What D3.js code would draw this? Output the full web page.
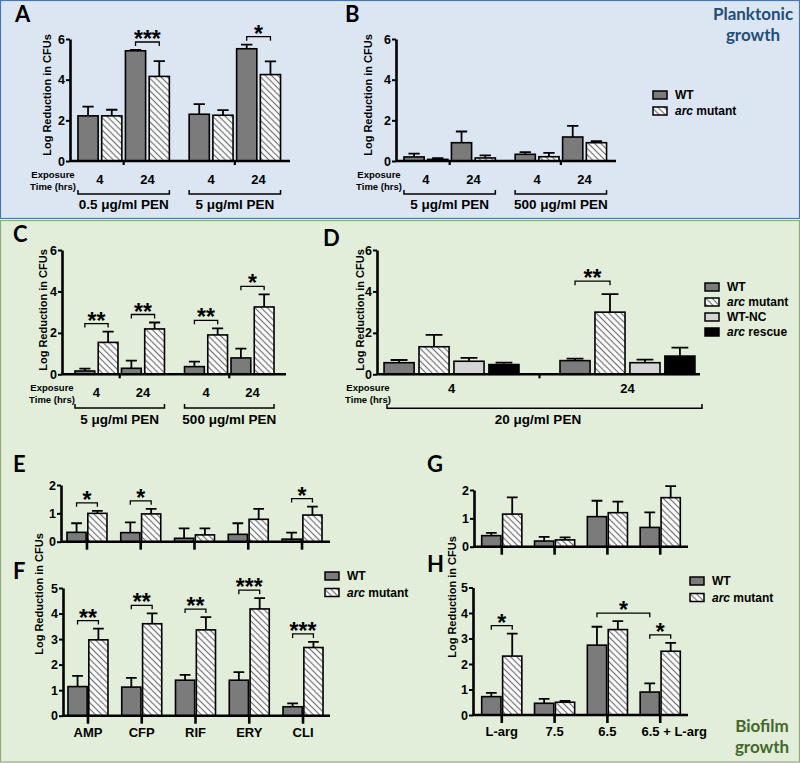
<!DOCTYPE html>
<html><head><meta charset="utf-8">
<script src="https://cdn.jsdelivr.net/npm/d3@7"></script>
<style>
body{margin:0;background:#fff}
svg{display:block}
text{font-family:"Liberation Sans",Arial,sans-serif;font-weight:bold;fill:#000}
.big{font-family:Lato,"Open Sans",sans-serif}
</style>
</head><body>
<svg id="c" width="800" height="763"></svg>
<script>
// ---------------- DATA ----------------
const timeLabels = ["4", "24"];
const strains = ["WT", "arc mutant"];

// Panel A (planktonic, WT vs arc, order: conc0-4h, conc0-24h, conc1-4h, conc1-24h)
const aGroups = ["0.5 μg/ml PEN", "5 μg/ml PEN"];
const aWT = [2.22, 5.42, 2.3, 5.52];
const aWTErr = [0.45, 0.04, 0.5, 0.2];
const aArc = [2.22, 4.16, 2.25, 4.25];
const aArcErr = [0.3, 0.75, 0.25, 0.65];
const aSig = [{g: 0, t: "24", label: "***"}, {g: 1, t: "24", label: "*"}];

// Panel B
const bGroups = ["5 μg/ml PEN", "500 μg/ml PEN"];
const bWT = [0.2, 0.9, 0.33, 1.18];
const bWTErr = [0.16, 0.55, 0.11, 0.55];
const bArc = [0.08, 0.15, 0.21, 0.9];
const bArcErr = [0.06, 0.13, 0.19, 0.08];

// Panel C (biofilm)
const cGroups = ["5 μg/ml PEN", "500 μg/ml PEN"];
const cWT = [0.16, 0.29, 0.37, 0.79];
const cWTErr = [0.11, 0.37, 0.24, 0.45];
const cArc = [1.54, 2.19, 1.9, 3.25];
const cArcErr = [0.52, 0.31, 0.32, 0.61];
const cSig = [{g: 0, t: "4", label: "**"}, {g: 0, t: "24", label: "**"},
              {g: 1, t: "4", label: "**"}, {g: 1, t: "24", label: "*"}];

// Panel D
const dTimes = ["4", "24"];
const dStrains = ["WT", "arc mutant", "WT-NC", "arc rescue"];
const d4h = [0.56, 1.33, 0.63, 0.47];
const d4hErr = [0.13, 0.57, 0.16, 0.09];
const d24h = [0.66, 3.0, 0.56, 0.88];
const d24hErr = [0.1, 0.87, 0.15, 0.41];
const dConc = "20 μg/ml PEN";

// Panels E / F
const antibiotics = ["AMP", "CFP", "RIF", "ERY", "CLI"];
const eWT = [0.33, 0.32, 0.12, 0.26, 0.09];
const eWTErr = [0.32, 0.36, 0.35, 0.39, 0.23];
const eArc = [1.0, 0.98, 0.24, 0.79, 0.94];
const eArcErr = [0.09, 0.18, 0.23, 0.37, 0.3];
const eSig = [{a: [0, "WT"], b: [0, "arc"], label: "*"}, {a: [1, "WT"], b: [1, "arc"], label: "*"},
              {a: [4, "WT"], b: [4, "arc"], label: "*"}];
const fWT = [1.14, 1.12, 1.39, 1.39, 0.35];
const fWTErr = [0.42, 0.36, 0.21, 0.32, 0.13];
const fArc = [2.97, 3.6, 3.36, 4.18, 2.67];
const fArcErr = [0.44, 0.41, 0.5, 0.42, 0.22];
const fSig = [{a: [0, "WT"], b: [0, "arc"], label: "**"}, {a: [1, "WT"], b: [1, "arc"], label: "**"},
              {a: [2, "WT"], b: [2, "arc"], label: "**"}, {a: [3, "WT"], b: [3, "arc"], label: "***"},
              {a: [4, "WT"], b: [4, "arc"], label: "***"}];

// Panels G / H
const conditions = ["L-arg", "7.5", "6.5", "6.5 + L-arg"];
const gWT = [0.39, 0.2, 1.06, 0.68];
const gWTErr = [0.1, 0.15, 0.56, 0.53];
const gArc = [1.15, 0.24, 1.2, 1.73];
const gArcErr = [0.59, 0.09, 0.39, 0.41];
const hWT = [0.72, 0.46, 2.74, 0.9];
const hWTErr = [0.15, 0.17, 0.72, 0.34];
const hArc = [2.31, 0.5, 3.35, 2.5];
const hArcErr = [0.88, 0.05, 0.33, 0.33];
const hSig = [{a: [0, "WT"], b: [0, "arc"], label: "*"}, {a: [2, "WT"], b: [3, "WT"], label: "*"},
              {a: [3, "WT"], b: [3, "arc"], label: "*"}];

// ---------------- DRAWING ----------------
const WT_FILL = "#7b7b7b", NC_FILL = "#d4d4d4", RESCUE_FILL = "#000";
const svg = d3.select("#c");
const defs = svg.append("defs");
const pat = defs.append("pattern").attr("id", "hatch").attr("patternUnits", "userSpaceOnUse")
  .attr("width", 4.4).attr("height", 4.4).attr("patternTransform", "rotate(-45)");
pat.append("rect").attr("width", 4.4).attr("height", 4.4).attr("fill", "#fff");
pat.append("line").attr("x1", 2.2).attr("x2", 2.2).attr("y1", 0).attr("y2", 4.4)
  .attr("stroke", "#707070").attr("stroke-width", 1.2);

// backgrounds
svg.append("rect").attr("x", 0.5).attr("y", 0.5).attr("width", 799).attr("height", 218)
  .attr("fill", "#dce6f2").attr("stroke", "#4a78ad").attr("stroke-width", 1.2);
svg.append("rect").attr("x", 0.5).attr("y", 220.5).attr("width", 799).attr("height", 541.5)
  .attr("fill", "#e2eed9").attr("stroke", "#8fab80").attr("stroke-width", 1.2);

function txt(g, x, y, s, size, anchor) {
  return g.append("text").attr("x", x).attr("y", y).attr("font-size", size)
    .attr("text-anchor", anchor || "middle").text(s);
}

function drawBars(g, bars, y) {
  g.selectAll("rect.bar").data(bars).join("rect").attr("class", "bar")
    .attr("x", b => b.x).attr("y", b => y(b.v)).attr("width", b => b.w)
    .attr("height", b => y(0) - y(b.v)).attr("fill", b => b.fill)
    .attr("stroke", "#000").attr("stroke-width", 1.6);
  g.selectAll("path.err").data(bars.filter(b => b.e > 0)).join("path").attr("class", "err")
    .attr("d", b => {
      const cx = b.x + b.w / 2, yt = y(b.v + b.e), cw = b.w * 0.28;
      return `M${cx},${y(b.v)}V${yt}M${cx - cw},${yt}H${cx + cw}`;
    })
    .attr("fill", "none").attr("stroke", "#000").attr("stroke-width", 1.8);
}

function yAxis(g, y, x, ticks) {
  const ax = g.append("g").attr("transform", `translate(${x},0)`)
    .call(d3.axisLeft(y).tickValues(ticks).tickSize(4).tickSizeOuter(0).tickPadding(1).tickFormat(d3.format("d")));
  ax.attr("font-family", null).attr("font-size", null);
  ax.select(".domain").attr("stroke", "#000").attr("stroke-width", 2.6);
  ax.selectAll(".tick line").attr("stroke", "#000").attr("stroke-width", 2);
  ax.selectAll(".tick text").attr("font-size", 12.5).attr("fill", "#000");
}

function yTitle(g, x, cy) {
  g.append("text").attr("transform", `translate(${x},${cy}) rotate(-90)`)
    .attr("text-anchor", "middle").attr("font-size", 11).text("Log Reduction in CFUs");
}

function sigBracket(g, x1, x2, yb, label) {
  g.append("path").attr("d", `M${x1},${yb + 4}V${yb}H${x2}V${yb + 4}`)
    .attr("fill", "none").attr("stroke", "#000").attr("stroke-width", 1.3);
  txt(g, (x1 + x2) / 2, yb + 5, label, 23);
}

function legend(g, x, y0, step, items) {
  items.forEach((it, i) => {
    const yb = y0 + i * step;
    g.append("rect").attr("x", x).attr("y", yb - 8).attr("width", 14).attr("height", 8)
      .attr("fill", it.fill).attr("stroke", "#000").attr("stroke-width", 1.5);
    const t = g.append("text").attr("x", x + 22).attr("y", yb).attr("font-size", 12);
    if (it.name.startsWith("arc ")) {
      t.append("tspan").attr("font-style", "italic").text("arc");
      t.append("tspan").text(it.name.slice(3));
    } else t.text(it.name);
  });
}

function exposurePanel(o) {
  const g = svg.append("g");
  const y = d3.scaleLinear().domain([0, 6]).range([o.y0, o.yTop]);
  const outer = d3.scaleBand().domain(o.groups).range(o.range).paddingInner(o.pi).paddingOuter(o.po);
  const slots = [];
  timeLabels.forEach(t => strains.forEach(s => slots.push(t + "|" + s)));
  const inner = d3.scaleBand().domain(slots).range([0, outer.bandwidth()]).paddingInner(0.15);
  const bars = [];
  o.groups.forEach((gr, gi) => timeLabels.forEach((t, ti) => {
    const k = gi * 2 + ti;
    bars.push({g: gi, t, s: "WT", x: outer(gr) + inner(t + "|WT"), w: inner.bandwidth(), v: o.wt[k], e: o.wtErr[k], fill: WT_FILL});
    bars.push({g: gi, t, s: "arc", x: outer(gr) + inner(t + "|arc mutant"), w: inner.bandwidth(), v: o.arc[k], e: o.arcErr[k], fill: "url(#hatch)"});
  }));
  drawBars(g, bars, y);
  g.append("line").attr("x1", o.axisX).attr("x2", o.xEnd).attr("y1", o.y0).attr("y2", o.y0)
    .attr("stroke", "#000").attr("stroke-width", 2.6);
  o.groups.forEach(gr => {
    const xm = outer(gr) + (inner("4|arc mutant") + inner.bandwidth() + inner("24|WT")) / 2;
    g.append("line").attr("x1", xm).attr("x2", xm).attr("y1", o.y0).attr("y2", o.y0 + 4)
      .attr("stroke", "#000").attr("stroke-width", 2.2);
    timeLabels.forEach(t => {
      const cx = outer(gr) + (inner(t + "|WT") + inner(t + "|arc mutant") + inner.bandwidth()) / 2;
      txt(g, cx, o.timeY, t, 13);
    });
    const x1 = outer(gr), x2 = outer(gr) + outer.bandwidth();
    g.append("path").attr("d", `M${x1},${o.brY - 4}V${o.brY}H${x2}V${o.brY - 4}`)
      .attr("fill", "none").attr("stroke", "#000").attr("stroke-width", 1.5);
    txt(g, (x1 + x2) / 2, o.glY, gr, 13.5);
  });
  yAxis(g, y, o.axisX, [0, 2, 4, 6]);
  yTitle(g, o.titleX, o.titleY);
  txt(g, o.expX, o.expY, "Exposure", 9.5);
  txt(g, o.expX, o.expY + 12, "Time (hrs)", 9.5);
  (o.sig || []).forEach(sg => {
    const b1 = bars.find(b => b.g === sg.g && b.t === sg.t && b.s === "WT");
    const b2 = bars.find(b => b.g === sg.g && b.t === sg.t && b.s === "arc");
    const yb = Math.min(y(b1.v + b1.e), y(b2.v + b2.e)) - 8;
    sigBracket(g, b1.x + b1.w / 2, b2.x + b2.w / 2, yb, sg.label);
  });
  return g;
}

function catPanel(o) {
  const g = svg.append("g");
  const y = d3.scaleLinear().domain([0, o.max]).range([o.y0, o.yTop]);
  const outer = d3.scaleBand().domain(o.cats).range(o.range).paddingInner(o.pi).paddingOuter(o.po);
  const inner = d3.scaleBand().domain(["WT", "arc"]).range([0, outer.bandwidth()]).paddingInner(0.08);
  const bars = [];
  o.cats.forEach((c, i) => {
    bars.push({c: i, s: "WT", x: outer(c) + inner("WT"), w: inner.bandwidth(), v: o.wt[i], e: o.wtErr[i], fill: WT_FILL});
    bars.push({c: i, s: "arc", x: outer(c) + inner("arc"), w: inner.bandwidth(), v: o.arc[i], e: o.arcErr[i], fill: "url(#hatch)"});
  });
  drawBars(g, bars, y);
  g.append("line").attr("x1", o.axisX).attr("x2", o.xEnd).attr("y1", o.y0).attr("y2", o.y0)
    .attr("stroke", "#000").attr("stroke-width", 2.6);
  o.cats.forEach(c => {
    const cx = outer(c) + outer.bandwidth() / 2;
    g.append("line").attr("x1", cx).attr("x2", cx).attr("y1", o.y0).attr("y2", o.y0 + 8)
      .attr("stroke", "#000").attr("stroke-width", 2.6);
    if (o.labels) txt(g, cx + (c === "6.5 + L-arg" ? 14 : 0), o.y0 + 21, c, 13);
  });
  yAxis(g, y, o.axisX, d3.range(0, o.max + 1));
  (o.sig || []).forEach(sg => {
    const b1 = bars.find(b => b.c === sg.a[0] && b.s === sg.a[1]);
    const b2 = bars.find(b => b.c === sg.b[0] && b.s === sg.b[1]);
    const x1 = b1.x + b1.w / 2, x2 = b2.x + b2.w / 2;
    const inside = bars.filter(b => b.x + b.w / 2 >= x1 - 0.1 && b.x + b.w / 2 <= x2 + 0.1);
    const yb = d3.min(inside, b => y(b.v + b.e)) - 8;
    sigBracket(g, x1, x2, yb, sg.label);
  });
  return g;
}

// Panel A
exposurePanel({groups: aGroups, wt: aWT, wtErr: aWTErr, arc: aArc, arcErr: aArcErr, sig: aSig,
  axisX: 70, xEnd: 290, y0: 161, yTop: 39, range: [72.4, 286.1], pi: 0.178, po: 0.05,
  timeY: 184, brY: 194, glY: 209, expX: 53, expY: 178, titleX: 51, titleY: 95});
// Panel B
const pB = exposurePanel({groups: bGroups, wt: bWT, wtErr: bWTErr, arc: bArc, arcErr: bArcErr,
  axisX: 396, xEnd: 616, y0: 161, yTop: 39, range: [398.4, 612.1], pi: 0.178, po: 0.05,
  timeY: 184, brY: 194, glY: 209, expX: 379, expY: 178, titleX: 372, titleY: 95});
legend(pB, 653, 99, 16, [{name: "WT", fill: WT_FILL}, {name: "arc mutant", fill: "url(#hatch)"}]);
// Panel C
exposurePanel({groups: cGroups, wt: cWT, wtErr: cWTErr, arc: cArc, arcErr: cArcErr, sig: cSig,
  axisX: 62, xEnd: 286, y0: 374.3, yTop: 250, range: [69.5, 279.5], pi: 0.183, po: 0.05,
  timeY: 397, brY: 408, glY: 424, expX: 52, expY: 391, titleX: 46.5, titleY: 310});

// Panel D
(function () {
  const g = svg.append("g");
  const axisX = 377;
  const y = d3.scaleLinear().domain([0, 6]).range([374.3, 250]);
  const outer = d3.scaleBand().domain(dTimes).range([380, 699]).paddingInner(0.233).paddingOuter(0.023);
  const inner = d3.scaleBand().domain(dStrains).range([0, outer.bandwidth()]).paddingInner(0.14);
  const fills = [WT_FILL, "url(#hatch)", NC_FILL, RESCUE_FILL];
  const vals = [d4h, d24h], errs = [d4hErr, d24hErr];
  const bars = [];
  dTimes.forEach((t, ti) => dStrains.forEach((s, si) => bars.push({
    t, s, x: outer(t) + inner(s), w: inner.bandwidth(), v: vals[ti][si], e: errs[ti][si], fill: fills[si]})));
  drawBars(g, bars, y);
  g.append("line").attr("x1", axisX).attr("x2", 700).attr("y1", 374.3).attr("y2", 374.3)
    .attr("stroke", "#000").attr("stroke-width", 2.6);
  const xm = (outer("4") + outer.bandwidth() + outer("24")) / 2;
  g.append("line").attr("x1", xm).attr("x2", xm).attr("y1", 374.3).attr("y2", 378.3)
    .attr("stroke", "#000").attr("stroke-width", 2.2);
  dTimes.forEach(t => txt(g, outer(t) + outer.bandwidth() / 2, 393, t, 13));
  g.append("path").attr("d", `M387,404V408.3H702V404`).attr("fill", "none").attr("stroke", "#000").attr("stroke-width", 1.5);
  txt(g, 538, 424, dConc, 13.5);
  yAxis(g, y, axisX, [0, 2, 4, 6]);
  yTitle(g, 364, 310);
  txt(g, 368, 391, "Exposure", 9.5);
  txt(g, 368, 403, "Time (hrs)", 9.5);
  const b1 = bars.find(b => b.t === "24" && b.s === "WT"), b2 = bars.find(b => b.t === "24" && b.s === "arc mutant");
  sigBracket(g, b1.x + b1.w / 2, b2.x + b2.w / 2, Math.min(y(b1.v + b1.e), y(b2.v + b2.e)) - 13, "**");
  legend(g, 705, 291, 15, dStrains.map((s, i) => ({name: s, fill: fills[i]})));
})();

// Panel E / F
catPanel({cats: antibiotics, wt: eWT, wtErr: eWTErr, arc: eArc, arcErr: eArcErr, sig: eSig,
  max: 2, y0: 541.7, yTop: 485, axisX: 61, xEnd: 330, range: [61.6, 327.4], pi: 0.256, po: 0.1, labels: false});
const pF = catPanel({cats: antibiotics, wt: fWT, wtErr: fWTErr, arc: fArc, arcErr: fArcErr, sig: fSig,
  max: 5, y0: 715.7, yTop: 588, axisX: 63, xEnd: 330, range: [62.6, 328.4], pi: 0.256, po: 0.1, labels: true});
yTitle(pF, 43, 594);
legend(pF, 325, 580, 16.5, [{name: "WT", fill: WT_FILL}, {name: "arc mutant", fill: "url(#hatch)"}]);

// Panel G / H
catPanel({cats: conditions, wt: gWT, wtErr: gWTErr, arc: gArc, arcErr: gArcErr,
  max: 2, y0: 546.7, yTop: 490, axisX: 474, xEnd: 688, range: [476, 686], pi: 0.24, po: 0.108, labels: false});
const pH = catPanel({cats: conditions, wt: hWT, wtErr: hWTErr, arc: hArc, arcErr: hArcErr, sig: hSig,
  max: 5, y0: 715, yTop: 587.5, axisX: 473, xEnd: 688, range: [476, 686], pi: 0.24, po: 0.108, labels: true});
yTitle(pH, 456, 597);
legend(pH, 690, 585, 16.5, [{name: "WT", fill: WT_FILL}, {name: "arc mutant", fill: "url(#hatch)"}]);

// Panel letters
const letters = [["A", 15, 22], ["B", 345, 22], ["C", 13, 242], ["D", 323, 246],
                 ["E", 13, 472], ["F", 13, 579], ["G", 427, 472], ["H", 427, 572]];
letters.forEach(([l, x, yy]) => txt(svg, x, yy, l, 22, "start").attr("class", "big").attr("font-weight", 900));

// Section titles
const sectionTitle = (lines, x, y0, color) => lines.forEach((s, i) =>
  svg.append("text").attr("class", "big").attr("text-anchor", "middle").attr("font-size", 17)
    .attr("x", x).attr("y", y0 + i * 21).style("fill", color).text(s));
sectionTitle(["Planktonic", "growth"], 753, 20, "#1f4e79");
sectionTitle(["Biofilm", "growth"], 762, 732, "#44682c");
</script>
</body></html>
